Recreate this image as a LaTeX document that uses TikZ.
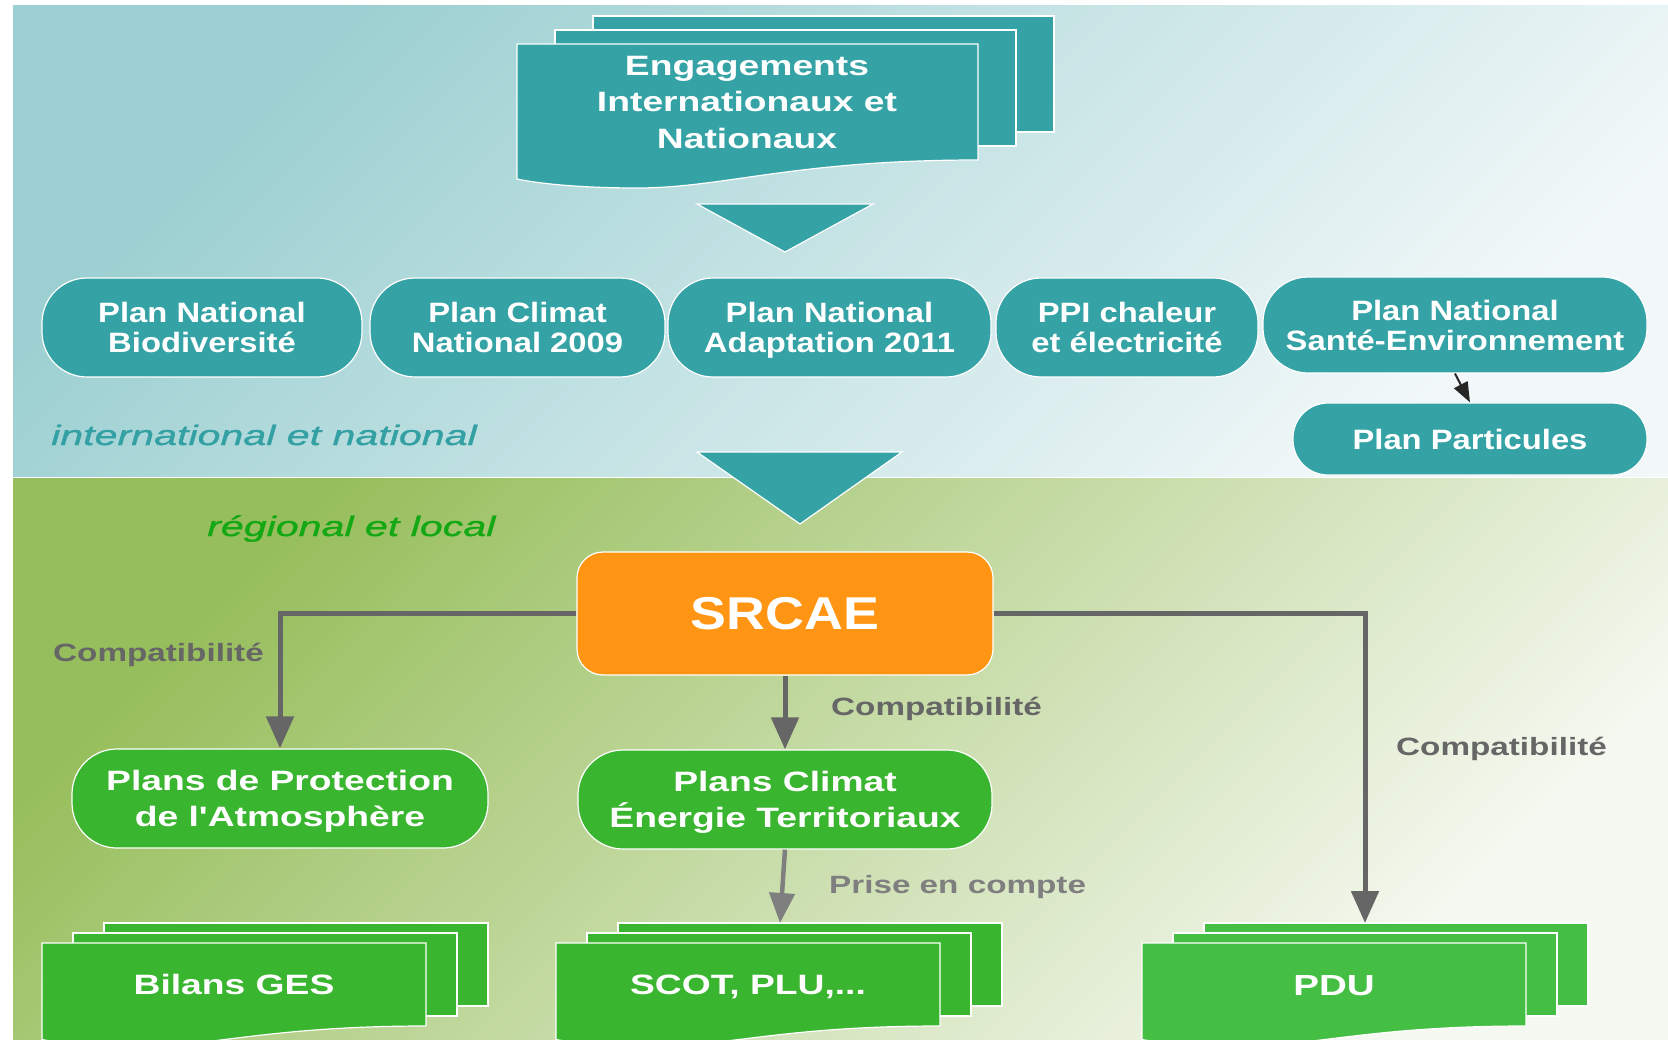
\documentclass[tikz,border=0pt]{standalone}
\usepackage{fontspec}
\setmainfont{Liberation Sans}
\newfontfamily\fA[FakeStretch=1.17]{Liberation Sans}
\newfontfamily\fB[FakeStretch=1.33]{Liberation Sans}
\newfontfamily\fI[FakeStretch=1.47,FakeBold=1.2]{Liberation Sans}
\usetikzlibrary{arrows.meta}
\definecolor{tealc}{HTML}{35A3A5}
\definecolor{greenc}{HTML}{3AB530}
\definecolor{greend}{HTML}{45BF43}
\definecolor{orangec}{HTML}{FF9512}
\definecolor{grayc}{HTML}{666666}
\definecolor{grayl}{HTML}{7F7F7F}
\definecolor{tealtxt}{HTML}{33A0A3}
\definecolor{greentxt}{HTML}{14A814}
\definecolor{bgTa}{HTML}{9BCFD1}
\definecolor{bgTb}{HTML}{F2F8F9}
\definecolor{bgGa}{HTML}{97BE5C}
\definecolor{bgGb}{HTML}{F6F9F2}
\newcommand\docstack[8]{%
  \filldraw[fill=#8, draw=white, line width=1.2pt] ({#1+2*#5},{#2-2*#6}) rectangle ++(#3,#4);
  \filldraw[fill=#8, draw=white, line width=1.2pt] ({#1+#5},{#2-#6}) rectangle ++(#3,#4);
  \filldraw[fill=#8, draw=white, line width=1.2pt] (#1,#2) -- ({#1+#3},#2) -- ({#1+#3},{#2+#4})
    .. controls ({#1+0.6*#3},{#2+#4}) and ({#1+0.45*#3},{#2+#4+#7}) .. ({#1+0.26*#3},{#2+#4+#7})
    .. controls ({#1+0.14*#3},{#2+#4+#7}) and ({#1+0.05*#3},{#2+#4+0.85*#7}) .. (#1,{#2+#4+0.68*#7}) -- cycle;
}
\begin{document}
\begin{tikzpicture}[x=1pt,y=-1pt,
  ovT/.style={draw=white, line width=1.2pt, fill=tealc, rounded corners=45pt, text=white,
    font=\fA\bfseries\fontsize{28}{30}\selectfont, align=center, inner sep=0pt, text depth=0pt},
  ovG/.style={draw=white, line width=1.2pt, fill=greenc, rounded corners=45pt, text=white,
    font=\fB\bfseries\fontsize{28}{36}\selectfont, align=center, inner sep=0pt,
    minimum height=99pt, text depth=0pt},
  docT/.style={text=white, font=\fB\bfseries\fontsize{28}{36.5}\selectfont, align=center, inner sep=0pt},
  lblC/.style={text=grayc, font=\fB\bfseries\fontsize{25}{28}\selectfont, inner sep=0pt, anchor=base west},
  lblI/.style={font=\fI\itshape\fontsize{28}{30}\selectfont, inner sep=0pt, anchor=base west},
  conn/.style={draw=grayc, line width=5pt, -{Triangle[length=32pt,width=27pt]}},
  conn2/.style={draw=grayl, line width=4.5pt, -{Triangle[length=30pt,width=25pt]}},
  tri/.style={fill=tealc, draw=white, line width=1.2pt}]
\useasboundingbox (0,0) rectangle (1668,1040);
\fill[white] (0,0) rectangle (1668,1040);
\shade[top color=bgTa, bottom color=bgTb, shading angle=45] (13,6) rectangle (1668,477);
\shade[top color=bgGa, bottom color=bgGb, shading angle=45] (13,478) rectangle (1668,1040);
\draw[white, line width=1.5pt] (13,477.5) -- (1668,477.5);

% top document stack
\docstack{517}{44}{461}{116}{38}{14}{28}{tealc}
\node[docT, anchor=north] (eng) at (747,56) {Engagements\\Internationaux et\\Nationaux};

% triangles
\filldraw[tri] (697,204) -- (873,204) -- (785,252) -- cycle;
\filldraw[tri] (697,452) -- (902,452) -- (800,524) -- cycle;

% national plans
\node[ovT, minimum width=320pt, minimum height=99pt] (pnb) at (202,327.5) {Plan National\\Biodiversit\'e};
\node[ovT, minimum width=295pt, minimum height=99pt] (pcn) at (517.5,327.5) {Plan Climat\\National 2009};
\node[ovT, minimum width=323pt, minimum height=99pt] (pna) at (829.5,327.5) {Plan National\\Adaptation 2011};
\node[ovT, minimum width=262pt, minimum height=99pt] (ppi) at (1127,327.5) {PPI chaleur\\et \'electricit\'e};
\node[ovT, minimum width=384pt, minimum height=96pt] (pnse) at (1455,325) {Plan National\\Sant\'e-Environnement};
\node[ovT, minimum width=354pt, minimum height=72pt, rounded corners=35pt] (ppart) at (1470,439) {Plan Particules};
\draw[draw=black!85, line width=2pt, -{Triangle[length=20pt,width=15pt]}] (pnse.south) -- (ppart.north);

% section labels
\node[lblI, text=tealtxt] (lint) at (51,445) {international et national};
\node[lblI, text=greentxt] (lreg) at (207,536) {r\'egional et local};

% SRCAE
\node[draw=white, line width=1.2pt, fill=orangec, rounded corners=26pt, minimum width=416pt,
  minimum height=123pt, inner sep=0pt, text=white, font=\fA\bfseries\fontsize{46}{50}\selectfont]
  (srcae) at (785,613.5) {SRCAE};

% regional plans
\node[ovG, minimum width=416pt] (ppa) at (280,798.5) {Plans de Protection\\de l'Atmosph\`ere};
\node[ovG, minimum width=414pt] (pcet) at (785,799.5) {Plans Climat\\\'Energie Territoriaux};

% bottom document stacks
\docstack{42}{943}{384}{83}{31}{10}{20}{greenc}
\node[docT, anchor=base] (bilans) at (234,994) {Bilans GES};
\docstack{556}{943}{384}{83}{31}{10}{20}{greenc}
\node[docT, anchor=base] (scot) at (748,994) {SCOT, PLU,...};
\docstack{1142}{943}{384}{83}{31}{10}{20}{greend}
\node[docT, anchor=base, font=\fB\bfseries\fontsize{29}{36}\selectfont] (pdu) at (1334,995) {PDU};

\coordinate (scotin) at (780,923);
\coordinate (pduin) at (1365,923);

% connectors
\draw[conn] (srcae.west) -| (ppa.north);
\draw[conn] (srcae.south) -- (pcet.north);
\draw[conn] (srcae.east) -| (pduin);
\draw[conn2] (pcet.south) -- (scotin);

% connector labels
\node[lblC] (c1) at (53,661) {Compatibilit\'e};
\node[lblC] (c2) at (831,715) {Compatibilit\'e};
\node[lblC] (c3) at (1396,755) {Compatibilit\'e};
\node[lblC, text=grayl] (c4) at (829,893) {Prise en compte};
\end{tikzpicture}
\end{document}
